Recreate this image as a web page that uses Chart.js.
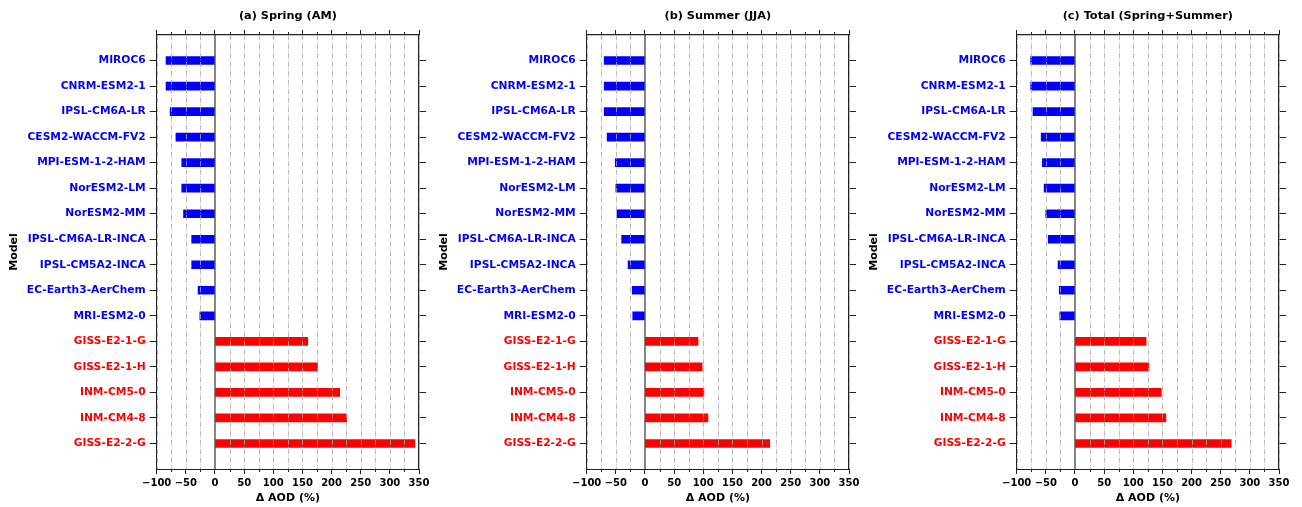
<!DOCTYPE html>
<html>
<head>
<meta charset="utf-8">
<script src="https://cdn.jsdelivr.net/npm/chart.js@4/dist/chart.umd.min.js"></script>
<style>
  body { margin: 0; background: #fff; }
  .panel { position: absolute; top: 0; width: 430px; height: 507px; }
</style>
</head>
<body>
<div class="panel" style="left:0px"><canvas id="springChart"></canvas></div>
<div class="panel" style="left:430px"><canvas id="summerChart"></canvas></div>
<div class="panel" style="left:860px"><canvas id="totalChart"></canvas></div>
<script>
const models = ['MIROC6', 'CNRM-ESM2-1', 'IPSL-CM6A-LR', 'CESM2-WACCM-FV2', 'MPI-ESM-1-2-HAM',
    'NorESM2-LM', 'NorESM2-MM', 'IPSL-CM6A-LR-INCA', 'IPSL-CM5A2-INCA', 'EC-Earth3-AerChem',
    'MRI-ESM2-0', 'GISS-E2-1-G', 'GISS-E2-1-H', 'INM-CM5-0', 'INM-CM4-8', 'GISS-E2-2-G'];
const spring = [-84, -84, -77, -67, -57, -57, -54, -40, -40, -29, -26, 159, 176, 214, 226, 343];
const summer = [-70, -70, -70, -65, -51, -50, -48, -40, -29, -22, -21, 91, 98, 101, 108, 214];
const total = [-76, -76, -72, -58, -56, -53, -50, -46, -29, -27, -26, 122, 127, 148, 156, 268];
const titles = ['(a) Spring (AM)', '(b) Summer (JJA)', '(c) Total (Spring+Summer)'];

Chart.defaults.font.family = "'DejaVu Sans', sans-serif";
Chart.defaults.color = '#000';

const frame = '#222';

// dashed grid over the bars, zero line and short minor ticks
const overlay = {
    id: 'overlay',
    afterDatasetsDraw(chart) {
        const ctx = chart.ctx;
        const area = chart.chartArea;
        const xs = chart.scales.x;
        ctx.save();
        ctx.strokeStyle = '#aaaaaa';
        ctx.lineWidth = 0.8;
        ctx.setLineDash([5, 1.5, 1, 1.5]);
        xs.ticks.forEach(t => {
            if (t.value === 0) return;
            const px = Math.round(xs.getPixelForValue(t.value)) + 0.5;
            ctx.beginPath();
            ctx.moveTo(px, area.top);
            ctx.lineTo(px, area.bottom);
            ctx.stroke();
        });
        ctx.setLineDash([]);
        const x0 = xs.getPixelForValue(0);
        ctx.strokeStyle = '#444';
        ctx.lineWidth = 1.3;
        ctx.beginPath();
        ctx.moveTo(x0, area.top);
        ctx.lineTo(x0, area.bottom);
        ctx.stroke();
        ctx.restore();
    },
    afterDraw(chart) {
        const ctx = chart.ctx;
        const area = chart.chartArea;
        ctx.save();
        ctx.strokeStyle = frame;
        ctx.lineWidth = 1;
        ['x', 'x2'].forEach(id => {
            const s = chart.scales[id];
            s.ticks.forEach(t => {
                if (t.value % 50 === 0) return;
                const px = Math.round(s.getPixelForValue(t.value)) + 0.5;
                ctx.beginPath();
                if (id === 'x') {
                    ctx.moveTo(px, area.bottom);
                    ctx.lineTo(px, area.bottom + 3);
                } else {
                    ctx.moveTo(px, area.top);
                    ctx.lineTo(px, area.top - 3);
                }
                ctx.stroke();
            });
        });
        ctx.restore();
    }
};

function fmt(v) {
    if (v % 50 !== 0) return '';
    return v < 0 ? '\u2212' + Math.abs(v) : String(v);
}

function noPad(s) {
    s.paddingLeft = 0; s.paddingRight = 0; s.paddingTop = 0; s.paddingBottom = 0;
}

const majorTick = c => (c.tick && c.tick.value % 50 === 0) ? frame : 'rgba(0,0,0,0)';

function makePanel(id, values, title) {
    const yTicks = s => { s.ticks = models.map((m, i) => ({value: i})); };
    new Chart(document.getElementById(id).getContext('2d'), {
        type: 'bar',
        data: {
            datasets: [{
                data: values.map((v, i) => ({x: v, y: i})),
                backgroundColor: values.map(v => v < 0 ? '#0000ff' : '#ff0000'),
                borderWidth: 0,
                barThickness: 8
            }]
        },
        options: {
            indexAxis: 'y',
            responsive: true,
            maintainAspectRatio: false,
            animation: false,
            layout: {padding: 0},
            plugins: {legend: {display: false}, tooltip: {enabled: false}},
            scales: {
                x: {
                    type: 'linear', position: 'bottom', min: -100, max: 350,
                    ticks: {
                        stepSize: 25, autoSkip: false, maxRotation: 0, padding: 3,
                        font: {size: 10, weight: 'bold'},
                        callback: v => fmt(v)
                    },
                    grid: {drawOnChartArea: false, tickLength: 5, tickColor: majorTick},
                    border: {color: frame, width: 1},
                    title: {
                        display: true, text: '\u0394 AOD (%)',
                        font: {size: 11, weight: 'bold'},
                        padding: {top: 0, bottom: 2.4}
                    },
                    afterFit: s => { s.height = 38; noPad(s); }
                },
                x2: {
                    type: 'linear', position: 'top', min: -100, max: 350,
                    ticks: {stepSize: 25, display: false},
                    grid: {drawOnChartArea: false, tickLength: 5, tickColor: majorTick},
                    border: {color: frame, width: 1.2},
                    title: {
                        display: true, text: title,
                        font: {size: 11.3, weight: 'bold'},
                        padding: {top: 9.1, bottom: 0}
                    },
                    afterFit: s => { s.height = 35; noPad(s); }
                },
                y: {
                    type: 'linear', position: 'left', min: -1, max: 16, reverse: true,
                    offset: false,
                    afterBuildTicks: yTicks,
                    ticks: {
                        autoSkip: false, padding: 4,
                        font: {size: 10.7, weight: 'bold'},
                        color: c => c.tick.value < 11 ? '#0000ff' : '#ff0000',
                        callback: v => models[v]
                    },
                    grid: {drawOnChartArea: false, offset: false, tickLength: 7, tickColor: frame},
                    border: {color: frame, width: 1},
                    title: {
                        display: true, text: 'Model',
                        font: {size: 11, weight: 'bold'},
                        padding: {top: 7.4, bottom: 0}
                    },
                    afterFit: s => { s.width = 156.7; noPad(s); }
                },
                y2: {
                    type: 'linear', position: 'right', min: -1, max: 16, reverse: true,
                    offset: false,
                    afterBuildTicks: yTicks,
                    ticks: {display: false},
                    grid: {drawOnChartArea: false, offset: false, tickLength: 7, tickColor: frame},
                    border: {color: frame, width: 1.2},
                    afterFit: s => { s.width = 11; noPad(s); }
                }
            }
        },
        plugins: [overlay]
    });
}

makePanel('springChart', spring, titles[0]);
makePanel('summerChart', summer, titles[1]);
makePanel('totalChart', total, titles[2]);
</script>
</body>
</html>
